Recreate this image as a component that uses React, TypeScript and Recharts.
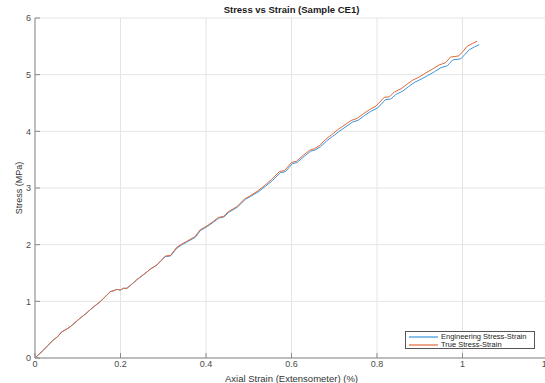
import React from "react";
import { LineChart, Line, XAxis, YAxis, CartesianGrid } from "recharts";

// strain (%) and stress (MPa)
const engStrain = [
  0, 0.01, 0.02, 0.03, 0.043, 0.052, 0.0625, 0.072, 0.082, 0.093, 0.105, 0.117, 0.129, 0.14,
  0.152, 0.164, 0.176, 0.185, 0.191, 0.2, 0.207, 0.215, 0.226, 0.238, 0.25, 0.262, 0.27, 0.285,
  0.295, 0.305, 0.317, 0.332, 0.344, 0.356, 0.375, 0.387, 0.403, 0.418, 0.43, 0.442, 0.453,
  0.473, 0.492, 0.504, 0.524, 0.539, 0.555, 0.574, 0.586, 0.602, 0.613, 0.63, 0.645, 0.655,
  0.668, 0.682, 0.696, 0.71, 0.723, 0.742, 0.757, 0.771, 0.785, 0.801, 0.82, 0.832, 0.844,
  0.86, 0.874, 0.887, 0.903, 0.918, 0.934, 0.949, 0.965, 0.977, 0.996, 1.006, 1.016, 1.028,
  1.039,
];
const engStress = [
  0, 0.07, 0.14, 0.22, 0.32, 0.37, 0.46, 0.5, 0.55, 0.62, 0.7, 0.77, 0.85, 0.92, 0.99, 1.08,
  1.17, 1.19, 1.21, 1.2, 1.23, 1.23, 1.3, 1.38, 1.45, 1.52, 1.57, 1.64, 1.72, 1.79, 1.8, 1.94,
  2.0, 2.05, 2.13, 2.25, 2.32, 2.4, 2.47, 2.49, 2.57, 2.66, 2.8, 2.85, 2.94, 3.03, 3.13, 3.27,
  3.29, 3.43, 3.45, 3.56, 3.65, 3.67, 3.73, 3.83, 3.91, 3.99, 4.06, 4.16, 4.2, 4.28, 4.35,
  4.41, 4.56, 4.57, 4.65, 4.71, 4.79, 4.86, 4.92, 4.98, 5.05, 5.12, 5.16, 5.26, 5.28, 5.36,
  5.44, 5.49, 5.53,
];

const trueStrain = [
  0, 0.01, 0.02, 0.03, 0.043, 0.052, 0.062, 0.072, 0.082, 0.093, 0.105, 0.117, 0.129, 0.14,
  0.152, 0.164, 0.176, 0.185, 0.191, 0.2, 0.207, 0.215, 0.226, 0.238, 0.25, 0.262, 0.27, 0.285,
  0.295, 0.305, 0.317, 0.331, 0.343, 0.355, 0.374, 0.386, 0.402, 0.417, 0.429, 0.441, 0.452,
  0.472, 0.491, 0.503, 0.523, 0.538, 0.553, 0.572, 0.584, 0.6, 0.611, 0.628, 0.643, 0.653,
  0.666, 0.68, 0.694, 0.707, 0.72, 0.739, 0.754, 0.768, 0.782, 0.798, 0.817, 0.829, 0.84,
  0.856, 0.87, 0.883, 0.899, 0.914, 0.93, 0.945, 0.96, 0.972, 0.991, 1.001, 1.011, 1.023,
  1.034,
];
const trueStress = [
  0, 0.07, 0.14, 0.22, 0.32, 0.37, 0.46, 0.5, 0.55, 0.62, 0.7, 0.77, 0.85, 0.92, 0.99, 1.08,
  1.17, 1.19, 1.21, 1.2, 1.23, 1.23, 1.3, 1.38, 1.45, 1.52, 1.57, 1.64, 1.72, 1.8, 1.81, 1.95,
  2.01, 2.06, 2.14, 2.26, 2.33, 2.41, 2.48, 2.5, 2.58, 2.67, 2.81, 2.86, 2.96, 3.05, 3.15, 3.29,
  3.31, 3.45, 3.47, 3.58, 3.67, 3.69, 3.75, 3.86, 3.94, 4.02, 4.09, 4.19, 4.23, 4.31, 4.38,
  4.45, 4.6, 4.61, 4.69, 4.75, 4.83, 4.9, 4.96, 5.03, 5.1, 5.17, 5.21, 5.31, 5.33, 5.41, 5.5,
  5.55, 5.59,
];

const xTicks = [0, 0.2, 0.4, 0.6, 0.8, 1, 1.2];
const yTicks = [0, 1, 2, 3, 4, 5, 6];

const engData = engStrain.map((x, i) => ({ x, y: engStress[i] }));
const trueData = trueStrain.map((x, i) => ({ x, y: trueStress[i] }));

const FONT = "'Liberation Sans', Arial, Helvetica, sans-serif";
const AXIS = "#8a8a8a";
const BLUE = "#3a96dc";
const RED = "#e0683a";
const tickStyle = { fontSize: 9, fill: "#4a4a4a", fontFamily: FONT };

const legendItems = [
  { name: "Engineering Stress-Strain", color: BLUE },
  { name: "True Stress-Strain", color: RED },
];

export default function App() {
  return (
    <div
      style={{
        position: "absolute",
        left: 0,
        top: 0,
        width: 545,
        height: 383,
        overflow: "hidden",
        background: "#fff",
        fontFamily: FONT,
      }}
    >
      <LineChart
        width={560}
        height={383}
        margin={{ top: 18, right: 12, left: 0, bottom: 0 }}
      >
        <CartesianGrid stroke="#e4e4e4" xAxisId="b" yAxisId="l" />
        <XAxis
          xAxisId="b"
          type="number"
          dataKey="x"
          domain={[0, 1.2]}
          ticks={xTicks}
          height={25}
          tickSize={-5}
          tickMargin={8}
          stroke={AXIS}
          tick={tickStyle}
          label={{
            value: "Axial Strain (Extensometer) (%)",
            position: "insideBottom",
            offset: 1,
            style: { fontSize: 9.5, fill: "#333", fontFamily: FONT },
          }}
        />
        <XAxis
          xAxisId="t"
          orientation="top"
          type="number"
          dataKey="x"
          domain={[0, 1.2]}
          ticks={xTicks}
          height={0}
          tickSize={-5}
          stroke={AXIS}
          tickFormatter={() => ""}
        />
        <YAxis
          yAxisId="l"
          type="number"
          domain={[0, 6]}
          ticks={yTicks}
          width={35}
          tickSize={-5}
          tickMargin={9}
          stroke={AXIS}
          tick={tickStyle}
          label={{
            value: "Stress (MPa)",
            angle: -90,
            position: "center",
            dx: 1,
            style: { fontSize: 9, fill: "#333", fontFamily: FONT },
          }}
        />
        <YAxis
          yAxisId="r"
          orientation="right"
          type="number"
          domain={[0, 6]}
          ticks={yTicks}
          width={0}
          tickSize={-5}
          stroke={AXIS}
          tickFormatter={() => ""}
        />
        <Line
          xAxisId="b"
          yAxisId="l"
          data={engData}
          dataKey="y"
          type="linear"
          stroke={BLUE}
          strokeWidth={1}
          dot={false}
          isAnimationActive={false}
        />
        <Line
          xAxisId="b"
          yAxisId="l"
          data={trueData}
          dataKey="y"
          type="linear"
          stroke={RED}
          strokeWidth={1}
          dot={false}
          isAnimationActive={false}
        />
      </LineChart>

      {/* title */}
      <div
        style={{
          position: "absolute",
          left: 0,
          width: 583,
          top: 4,
          textAlign: "center",
          fontSize: 9.5,
          fontWeight: "bold",
          color: "#1a1a1a",
          lineHeight: "12px",
        }}
      >
        Stress vs Strain (Sample CE1)
      </div>

      {/* legend box */}
      <div
        style={{
          position: "absolute",
          left: 405,
          top: 331,
          width: 130,
          height: 18,
          boxSizing: "border-box",
          border: "1px solid #555",
          background: "#fff",
          fontSize: 7.5,
          color: "#222",
          lineHeight: "8px",
          paddingTop: 1,
        }}
      >
        {legendItems.map((item) => (
          <div key={item.name} style={{ display: "flex", alignItems: "center", height: 8 }}>
            <svg width={35} height={8} style={{ flex: "none" }}>
              <line x1={3} x2={32} y1={4} y2={4} stroke={item.color} strokeWidth={1.2} />
            </svg>
            <span style={{ whiteSpace: "nowrap" }}>{item.name}</span>
          </div>
        ))}
      </div>
    </div>
  );
}
